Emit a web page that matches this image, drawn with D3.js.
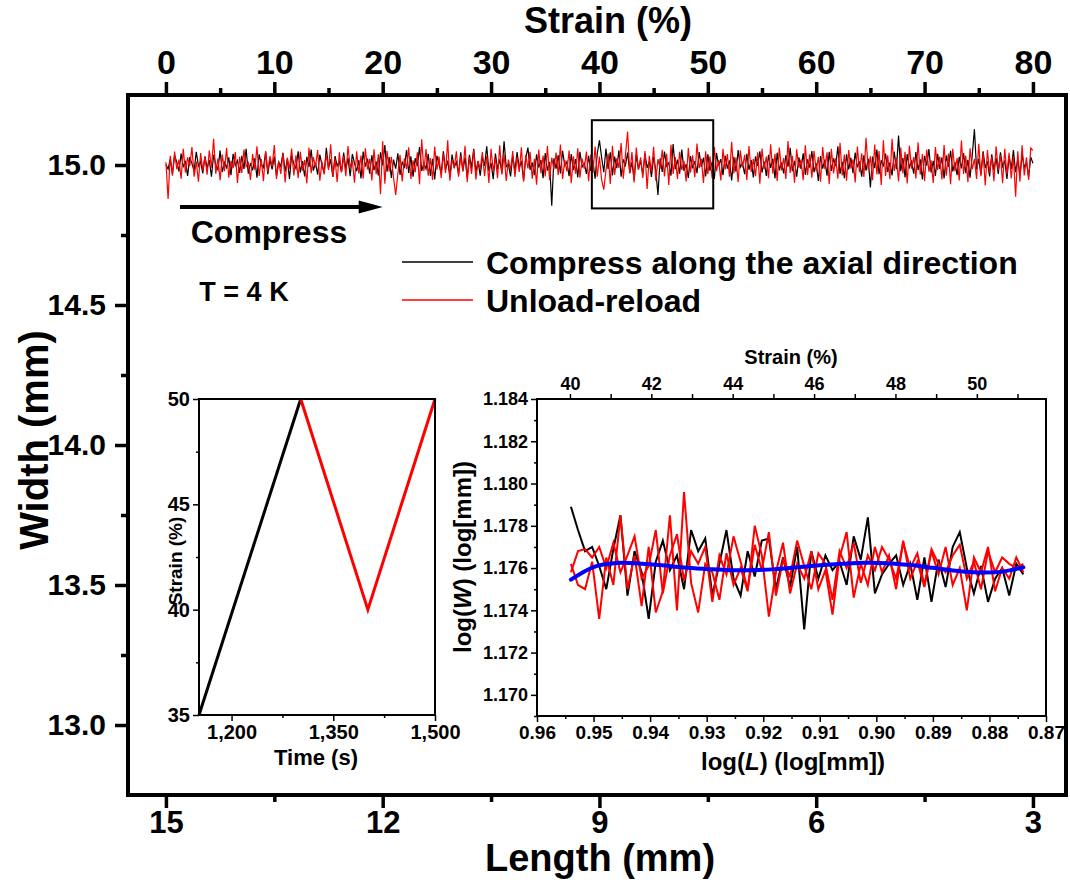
<!DOCTYPE html>
<html>
<head>
<meta charset="utf-8">
<script src="https://cdn.jsdelivr.net/npm/d3@7"></script>
<style>
  body { margin: 0; background: #fff; }
  svg text { font-family: "Liberation Sans", Arial, Helvetica, sans-serif; font-weight: bold; fill: #000; }
</style>
</head>
<body>
<svg id="chart" width="1070" height="883"></svg>
<script>
// ---------------- main panel: width vs strain (sampled every 0.2 % strain) ----------------
const strainStart = 0, strainEnd = 80;

const widthCompress = [
  15.002,14.985,15.021,14.968,15.034,15.010,14.977,15.041,14.992,15.015,14.961,15.028,15.005,14.979,15.047,14.996,15.012,14.970,15.031,14.988,
  15.018,14.958,15.036,15.001,14.983,15.052,14.975,15.009,14.990,15.027,14.964,15.040,14.998,15.016,14.972,15.033,14.986,15.058,14.969,15.007,
  14.981,15.024,14.955,15.038,15.003,14.991,15.046,14.967,15.019,14.984,15.030,14.962,15.011,14.995,15.043,14.976,15.022,14.950,15.035,15.004,
  14.987,15.049,14.973,15.014,14.959,15.029,14.993,15.055,14.980,15.008,14.966,15.037,15.000,14.971,15.061,14.989,15.020,14.957,15.032,14.997,
  15.013,14.974,15.044,14.985,15.026,14.960,15.039,15.006,14.978,15.017,14.952,15.048,14.994,15.023,14.969,15.035,14.982,15.012,14.963,15.045,
  14.999,15.071,14.976,15.028,14.954,15.019,14.987,15.042,14.965,15.010,14.993,15.053,14.972,15.031,14.958,15.024,14.996,15.064,14.979,15.006,
  14.986,15.040,14.961,15.022,14.948,15.033,15.001,14.970,15.049,14.983,15.016,14.957,15.037,14.992,15.011,14.967,15.045,14.980,15.027,14.955,
  15.036,14.990,15.058,14.975,15.014,14.962,15.029,14.997,15.067,14.978,15.008,14.949,15.041,14.985,15.020,14.971,15.085,14.994,15.003,14.959,
  15.032,14.977,15.046,14.988,15.015,14.946,15.025,15.062,14.983,15.009,14.964,15.038,14.991,15.018,14.953,15.043,14.980,15.011,14.855,15.024,
  14.987,15.035,14.970,15.051,14.998,15.012,14.960,15.039,14.982,15.021,14.956,15.047,14.993,15.006,14.968,15.033,14.979,15.016,14.951,15.042,
  15.088,15.027,14.974,15.059,14.986,15.045,14.963,15.030,14.989,15.052,14.958,15.020,14.999,15.044,14.972,15.010,14.947,15.036,14.984,15.017,
  14.966,15.041,14.990,15.013,14.957,15.029,14.981,14.893,15.024,14.975,15.048,14.996,15.008,14.962,15.075,14.985,15.019,14.969,15.055,14.979,
  15.003,14.954,15.032,14.988,15.014,14.971,15.046,14.993,15.026,14.959,15.038,14.980,15.011,14.950,15.043,14.998,15.021,14.964,15.034,14.987,
  15.016,14.945,15.029,14.976,15.053,14.992,15.007,14.967,15.040,14.983,15.018,14.956,15.031,14.997,15.049,14.973,15.012,14.961,15.036,14.990,
  15.023,14.952,15.044,14.981,15.009,14.970,15.035,14.994,15.061,14.978,15.015,14.958,15.027,14.986,15.042,14.965,15.020,14.991,15.050,14.974,
  15.006,14.943,15.032,14.987,15.019,14.962,15.047,14.979,15.024,14.996,15.067,14.968,15.011,14.953,15.038,14.984,15.026,14.971,15.044,14.992,
  15.013,14.958,15.035,14.980,15.022,14.920,15.030,14.989,15.055,14.967,15.017,14.994,15.041,14.975,15.009,14.963,15.048,14.985,15.105,14.978,
  15.025,14.956,15.039,14.991,15.012,14.969,15.046,14.982,15.020,14.948,15.033,14.998,15.057,14.973,15.015,14.961,15.040,14.986,15.027,14.952,
  15.034,14.993,15.051,14.977,15.010,14.964,15.029,14.988,15.043,14.971,15.018,14.955,15.035,15.128,14.984,15.022,14.966,15.049,14.990,15.013,
  14.959,15.038,14.981,15.026,14.968,15.045,14.995,15.016,14.950,15.032,14.986,15.053,14.974,15.021,14.962,15.037,14.992,15.010,14.957,15.028,
  15.006
];

const widthUnloadReload = [
  15.010,14.879,15.033,14.962,15.048,14.985,15.019,14.951,15.058,14.973,15.027,14.996,15.064,14.958,15.012,14.940,15.043,14.981,15.030,14.965,
  15.052,14.990,15.094,14.969,15.024,14.946,15.037,14.978,15.061,14.955,15.015,14.989,15.046,14.936,15.029,14.972,15.055,14.994,15.008,14.947,
  15.039,14.983,15.067,14.961,15.021,14.942,15.050,14.976,15.032,14.995,15.071,14.950,15.014,14.968,15.044,14.938,15.026,14.987,15.059,14.963,
  15.035,14.953,15.047,14.980,15.018,14.934,15.062,14.971,15.028,14.992,15.053,14.944,15.011,14.966,15.040,14.982,15.074,14.957,15.023,14.939,
  15.045,14.975,15.031,14.960,15.068,14.991,15.016,14.937,15.049,14.970,15.034,14.952,15.060,14.984,15.022,14.945,15.056,14.967,15.038,14.896,
  15.085,14.933,15.051,14.977,15.029,14.956,14.893,14.969,15.036,14.941,15.024,14.986,15.063,14.950,15.017,14.974,15.045,14.931,15.092,14.979,
  15.057,14.962,15.025,14.947,15.066,14.983,15.030,14.954,15.041,14.972,15.088,14.944,15.020,14.990,15.049,14.958,15.033,14.976,15.069,14.939,
  15.027,14.968,15.054,14.948,15.015,14.985,15.046,14.960,15.032,14.936,15.058,14.979,15.024,14.953,15.070,14.966,15.038,14.943,15.019,14.982,
  15.050,14.957,15.029,14.975,15.063,14.940,15.036,14.988,15.047,14.951,15.022,14.930,15.055,14.971,15.034,14.959,15.068,14.946,15.026,14.984,
  15.044,14.964,15.073,14.950,15.018,14.977,15.052,14.935,15.031,14.969,15.060,14.955,15.023,14.987,15.048,14.942,15.037,14.973,15.066,14.958,
  15.030,14.948,14.912,14.980,15.041,14.932,15.069,14.965,15.024,14.990,15.078,14.951,15.036,15.119,14.970,15.046,14.938,15.062,14.983,15.027,
  14.954,15.050,14.914,15.033,14.976,15.065,14.944,15.021,14.987,15.054,14.959,15.040,14.929,15.072,14.968,15.028,14.950,15.047,14.982,15.015,
  14.941,15.061,14.973,15.035,14.956,15.077,14.989,15.022,14.936,15.049,14.967,15.031,14.952,15.064,14.978,15.018,14.945,15.058,14.984,15.039,
  14.958,15.083,14.970,15.027,14.939,15.052,14.991,15.036,14.947,15.068,14.975,15.021,14.960,15.045,14.933,15.059,14.986,15.030,14.953,15.074,
  14.969,15.040,14.943,15.062,14.981,15.025,14.950,15.086,14.972,15.033,14.937,15.056,14.990,15.019,14.946,15.070,14.964,15.038,14.955,15.051,
  14.978,15.029,14.940,15.064,14.985,15.045,14.932,15.058,14.970,15.024,14.951,15.079,14.963,15.037,14.944,15.053,14.988,15.020,14.938,15.066,
  14.974,15.042,14.957,15.097,14.983,15.031,14.946,15.073,14.966,15.050,14.929,15.088,14.961,15.035,14.949,15.094,14.979,15.026,14.941,15.062,
  14.970,15.047,14.934,15.069,14.987,15.028,14.952,15.081,14.965,15.039,14.943,15.055,14.976,15.017,14.936,15.064,14.982,15.030,14.948,15.071,
  14.962,15.041,14.931,15.058,14.978,15.025,14.945,15.087,14.968,15.034,14.939,15.060,14.985,15.022,14.950,15.076,14.960,15.044,14.927,15.053,
  14.973,15.029,14.942,15.067,14.981,15.036,14.935,15.058,14.966,15.044,14.952,15.032,14.887,15.049,14.940,15.070,14.963,15.027,14.947,15.061,
  15.052
];

const strainTicks = [0, 10, 20, 30, 40, 50, 60, 70, 80];
const strainMinorTicks = [5, 15, 25, 35, 45, 55, 65, 75];
const lengthTicks = [15, 12, 9, 6, 3];
const lengthMinorTicks = [13.5, 10.5, 7.5, 4.5];
const widthTicks = [13.0, 13.5, 14.0, 14.5, 15.0];
const widthMinorTicks = [13.25, 13.75, 14.25, 14.75];

// zoom window marked on the main trace
const zoomStrain = [39.3, 50.5];
const zoomWidth = [14.845, 15.16];
// compression arrow
const arrowStrain = [1.3, 20.0];
const arrowWidth = 14.85;

// ---------------- left inset: loading cycle ----------------
const cycleTimeCompress = [1152, 1302];
const cycleStrainCompress = [35, 50];
const cycleTimeUnloadReload = [1302, 1401, 1500];
const cycleStrainUnloadReload = [50, 40, 50];
const timeTicks = [1200, 1350, 1500];
const timeMinorTicks = [1275, 1425];
const cycleStrainTicks = [35, 40, 45, 50];
const cycleStrainMinorTicks = [37.5, 42.5, 47.5];

// ---------------- right inset: log W vs log L, 40 -> 50 % strain ----------------
const logLStart = 0.954, logLEnd = 0.874;
const logWCompress = [
  1.1789,1.1778,1.1768,1.1770,1.1761,1.1750,1.1769,1.1785,1.1747,1.1768,1.1758,1.1736,1.1763,1.1773,1.1759,1.1766,
  1.1750,1.1778,1.1768,1.1774,1.1747,1.1762,1.1778,1.1755,1.1747,1.1768,1.1756,1.1773,1.1774,1.1750,1.1765,1.1751,
  1.1770,1.1731,1.1768,1.1755,1.1766,1.1759,1.1763,1.1752,1.1775,1.1764,1.1784,1.1748,1.1757,1.1762,1.1766,1.1752,
  1.1762,1.1745,1.1765,1.1744,1.1764,1.1751,1.1770,1.1777,1.1760,1.1748,1.1761,1.1744,1.1755,1.1760,1.1747,1.1762,
  1.1757
];
const logWUnload = [
  1.1762,1.1752,1.1750,1.1763,1.1736,1.1765,1.1752,1.1785,1.1750,1.1766,1.1742,1.1770,1.1739,1.1749,1.1785,1.1740,
  1.1796,1.1753,1.1739,1.1762,1.1758,1.1745,1.1767,1.1752,1.1760,1.1749,1.1780,1.1766,1.1737,1.1758,1.1772,1.1748,
  1.1762,1.1755,1.1768,1.1750,1.1759,1.1738,1.1765,1.1777,1.1746,1.1762,1.1752,1.1770,1.1758,1.1766,1.1750,1.1773,
  1.1755,1.1763,1.1751,1.1768,1.1757,1.1770,1.1752,1.1760,1.1740,1.1765,1.1758,1.1770,1.1749,1.1760,1.1755,1.1765,
  1.1758
];
const logWReload = [
  1.1758,1.1768,1.1769,1.1765,1.1770,1.1760,1.1772,1.1758,1.1766,1.1775,1.1755,1.1761,1.1778,1.1748,1.1766,1.1776,
  1.1754,1.1768,1.1762,1.1770,1.1744,1.1766,1.1757,1.1775,1.1763,1.1750,1.1771,1.1759,1.1777,1.1747,1.1764,1.1756,
  1.1773,1.1761,1.1750,1.1767,1.1762,1.1745,1.1768,1.1760,1.1772,1.1753,1.1766,1.1759,1.1770,1.1764,1.1755,1.1772,
  1.1760,1.1767,1.1752,1.1769,1.1762,1.1758,1.1766,1.1771,1.1755,1.1763,1.1750,1.1768,1.1758,1.1765,1.1762,1.1760,
  1.1762
];
// smooth fit through all three traces
const fitLogL = [0.954,0.950,0.946,0.942,0.938,0.934,0.930,0.926,0.922,0.918,0.914,0.910,0.906,0.902,0.898,0.894,0.890,0.886,0.882,0.878,0.874];
const fitLogW = [1.17545,1.17605,1.17624,1.17622,1.17613,1.17603,1.17596,1.17590,1.17590,1.17595,1.17604,1.17613,1.17620,1.17625,1.17623,1.17614,1.17601,1.17587,1.17579,1.17582,1.17604];

const logLTicks = [0.96, 0.95, 0.94, 0.93, 0.92, 0.91, 0.90, 0.89, 0.88, 0.87];
const logLMinorTicks = [0.955, 0.945, 0.935, 0.925, 0.915, 0.905, 0.895, 0.885, 0.875];
const logWTicks = [1.170, 1.172, 1.174, 1.176, 1.178, 1.180, 1.182, 1.184];
const logWMinorTicks = [1.169, 1.171, 1.173, 1.175, 1.177, 1.179, 1.181, 1.183];
const insetStrainTicks = [40, 41, 42, 43, 44, 45, 46, 47, 48, 49, 50, 51];

// ================= drawing =================
const svg = d3.select("#chart");

// ---- main scales ----
const xStrain = d3.scaleLinear().domain([-3.5, 83.05]).range([128, 1066]);
const xLength = d3.scaleLinear().domain([15.525, 2.5425]).range([128, 1066]);
const yWidth = d3.scaleLinear().domain([12.75, 15.25]).range([795, 95]);

const strainAt = (arr) => arr.map((w, i) => ({ s: strainStart + i * (strainEnd - strainStart) / (arr.length - 1), w }));

const mainLine = d3.line().x(d => xStrain(d.s)).y(d => yWidth(d.w));

svg.append("path").datum(strainAt(widthCompress))
  .attr("d", mainLine).attr("fill", "none").attr("stroke", "#000").attr("stroke-width", 1.2);
svg.append("path").datum(strainAt(widthUnloadReload))
  .attr("d", mainLine).attr("fill", "none").attr("stroke", "#ff0000").attr("stroke-width", 1.2);

// zoom window
svg.append("rect")
  .attr("x", xStrain(zoomStrain[0])).attr("y", yWidth(zoomWidth[1]))
  .attr("width", xStrain(zoomStrain[1]) - xStrain(zoomStrain[0]))
  .attr("height", yWidth(zoomWidth[0]) - yWidth(zoomWidth[1]))
  .attr("fill", "none").attr("stroke", "#000").attr("stroke-width", 2);

// compression arrow
const ax0 = xStrain(arrowStrain[0]), ax1 = xStrain(arrowStrain[1]), ay = yWidth(arrowWidth);
svg.append("line").attr("x1", ax0).attr("x2", ax1 - 18).attr("y1", ay).attr("y2", ay)
  .attr("stroke", "#000").attr("stroke-width", 4);
svg.append("path").attr("d", `M${ax1},${ay} L${ax1 - 24},${ay - 6.5} L${ax1 - 24},${ay + 6.5} Z`).attr("fill", "#000");

svg.append("text").attr("x", 269).attr("y", 243).attr("text-anchor", "middle")
  .style("font-size", "32px").text("Compress");
svg.append("text").attr("x", 244).attr("y", 301).attr("text-anchor", "middle")
  .style("font-size", "27px").text("T = 4 K");

// legend
const legend = [
  { label: "Compress along the axial direction", color: "#000", y: 262 },
  { label: "Unload-reload", color: "#ff0000", y: 300 }
];
legend.forEach(d => {
  svg.append("line").attr("x1", 402).attr("x2", 473).attr("y1", d.y).attr("y2", d.y)
    .attr("stroke", d.color).attr("stroke-width", 1.5);
  svg.append("text").attr("x", 486).attr("y", d.y + 12).style("font-size", "32px").text(d.label);
});

// ---- main axes ----
function styleAxis(g, fontSize) {
  g.select(".domain").remove();
  g.selectAll(".tick line").attr("stroke", "#000").attr("stroke-width", 3.5);
  g.selectAll(".tick text").style("font-size", fontSize).attr("fill", "#000");
}
svg.append("g").attr("transform", "translate(0,95)")
  .call(d3.axisTop(xStrain).tickValues(strainTicks).tickSize(13).tickPadding(8).tickFormat(d3.format("d")))
  .call(g => styleAxis(g, "34px"));
svg.append("g").attr("transform", "translate(0,95)")
  .call(d3.axisTop(xStrain).tickValues(strainMinorTicks).tickSize(7).tickFormat(""))
  .call(g => styleAxis(g, "0px"));
svg.append("g").attr("transform", "translate(0,795)")
  .call(d3.axisBottom(xLength).tickValues(lengthTicks).tickSize(13).tickPadding(3).tickFormat(d3.format("d")))
  .call(g => styleAxis(g, "31px"));
svg.append("g").attr("transform", "translate(0,795)")
  .call(d3.axisBottom(xLength).tickValues(lengthMinorTicks).tickSize(7).tickFormat(""))
  .call(g => styleAxis(g, "0px"));
svg.append("g").attr("transform", "translate(128,0)")
  .call(d3.axisLeft(yWidth).tickValues(widthTicks).tickSize(13).tickPadding(9).tickFormat(d3.format(".1f")))
  .call(g => styleAxis(g, "30px"));
svg.append("g").attr("transform", "translate(128,0)")
  .call(d3.axisLeft(yWidth).tickValues(widthMinorTicks).tickSize(7).tickFormat(""))
  .call(g => styleAxis(g, "0px"));

// frame
const [fx0, fx1] = xStrain.range();
const [fy1, fy0] = yWidth.range();
svg.append("rect").attr("x", fx0).attr("y", fy0).attr("width", fx1 - fx0).attr("height", fy1 - fy0)
  .attr("fill", "none").attr("stroke", "#000").attr("stroke-width", 4);

// axis titles
svg.append("text").attr("x", 608).attr("y", 33).attr("text-anchor", "middle")
  .style("font-size", "36px").text("Strain (%)");
svg.append("text").attr("x", 600).attr("y", 871).attr("text-anchor", "middle")
  .style("font-size", "38px").text("Length (mm)");
svg.append("text").attr("transform", "translate(48,440) rotate(-90)").attr("text-anchor", "middle")
  .style("font-size", "40px").text("Width (mm)");

// ---- left inset ----
const xTime = d3.scaleLinear().domain([1152, 1500]).range([199, 435]);
const yCycle = d3.scaleLinear().domain([35, 50]).range([715, 399]);
const cycleLine = d3.line().x(d => xTime(d[0])).y(d => yCycle(d[1]));
svg.append("path").datum(d3.zip(cycleTimeCompress, cycleStrainCompress))
  .attr("d", cycleLine).attr("fill", "none").attr("stroke", "#000").attr("stroke-width", 3);
svg.append("path").datum(d3.zip(cycleTimeUnloadReload, cycleStrainUnloadReload))
  .attr("d", cycleLine).attr("fill", "none").attr("stroke", "#ff0000").attr("stroke-width", 3);

function styleSmall(g, fontSize) {
  g.select(".domain").remove();
  g.selectAll(".tick line").attr("stroke", "#000").attr("stroke-width", 1.5);
  g.selectAll(".tick text").style("font-size", fontSize).attr("fill", "#000");
}
svg.append("g").attr("transform", "translate(0,715)")
  .call(d3.axisBottom(xTime).tickValues(timeTicks).tickSize(6).tickPadding(4).tickFormat(d3.format(",")))
  .call(g => styleSmall(g, "20px"));
svg.append("g").attr("transform", "translate(0,715)")
  .call(d3.axisBottom(xTime).tickValues(timeMinorTicks).tickSize(3).tickFormat(""))
  .call(g => styleSmall(g, "0px"));
svg.append("g").attr("transform", "translate(199,0)")
  .call(d3.axisLeft(yCycle).tickValues(cycleStrainTicks).tickSize(6).tickPadding(3).tickFormat(d3.format("d")))
  .call(g => styleSmall(g, "20px"));
svg.append("g").attr("transform", "translate(199,0)")
  .call(d3.axisLeft(yCycle).tickValues(cycleStrainMinorTicks).tickSize(3).tickFormat(""))
  .call(g => styleSmall(g, "0px"));
svg.append("rect").attr("x", 199).attr("y", 399).attr("width", 236).attr("height", 316)
  .attr("fill", "none").attr("stroke", "#000").attr("stroke-width", 2);
svg.append("text").attr("x", 316).attr("y", 765).attr("text-anchor", "middle")
  .style("font-size", "22px").text("Time (s)");
svg.append("text").attr("transform", "translate(182,561) rotate(-90)").attr("text-anchor", "middle")
  .style("font-size", "19px").text("Strain (%)");

// ---- right inset ----
const xLogL = d3.scaleLinear().domain([0.96, 0.87]).range([537, 1046]);
const xInsetStrain = d3.scaleLinear().domain([39.19, 51.70]).range([537, 1046]);
const yLogW = d3.scaleLinear().domain([1.169, 1.184]).range([716, 399]);
const logLAt = (arr) => arr.map((w, i) => [logLStart + i * (logLEnd - logLStart) / (arr.length - 1), w]);
const insetLine = d3.line().x(d => xLogL(d[0])).y(d => yLogW(d[1]));

svg.append("path").datum(logLAt(logWCompress)).attr("d", insetLine)
  .attr("fill", "none").attr("stroke", "#000").attr("stroke-width", 2);
svg.append("path").datum(logLAt(logWUnload)).attr("d", insetLine)
  .attr("fill", "none").attr("stroke", "#ff0000").attr("stroke-width", 2);
svg.append("path").datum(logLAt(logWReload)).attr("d", insetLine)
  .attr("fill", "none").attr("stroke", "#ff0000").attr("stroke-width", 2);
svg.append("path").datum(d3.zip(fitLogL, fitLogW))
  .attr("d", d3.line().x(d => xLogL(d[0])).y(d => yLogW(d[1])).curve(d3.curveCatmullRom))
  .attr("fill", "none").attr("stroke", "#0000ff").attr("stroke-width", 4).attr("stroke-linecap", "round");

svg.append("g").attr("transform", "translate(0,716)")
  .call(d3.axisBottom(xLogL).tickValues(logLTicks).tickSize(6).tickPadding(4).tickFormat(d3.format(".2f")))
  .call(g => styleSmall(g, "19px"));
svg.append("g").attr("transform", "translate(0,716)")
  .call(d3.axisBottom(xLogL).tickValues(logLMinorTicks).tickSize(3).tickFormat(""))
  .call(g => styleSmall(g, "0px"));
svg.append("g").attr("transform", "translate(537,0)")
  .call(d3.axisLeft(yLogW).tickValues(logWTicks).tickSize(6).tickPadding(3).tickFormat(d3.format(".3f")))
  .call(g => styleSmall(g, "18px"));
svg.append("g").attr("transform", "translate(537,0)")
  .call(d3.axisLeft(yLogW).tickValues(logWMinorTicks).tickSize(3).tickFormat(""))
  .call(g => styleSmall(g, "0px"));
svg.append("g").attr("transform", "translate(0,399)")
  .call(d3.axisTop(xInsetStrain).tickValues(insetStrainTicks).tickSize(5).tickPadding(4)
    .tickFormat(d => d % 2 === 0 ? d3.format("d")(d) : ""))
  .call(g => styleSmall(g, "18px"));
svg.append("rect").attr("x", 537).attr("y", 399).attr("width", 509).attr("height", 317)
  .attr("fill", "none").attr("stroke", "#000").attr("stroke-width", 2);

svg.append("text").attr("x", 791).attr("y", 364).attr("text-anchor", "middle")
  .style("font-size", "20px").text("Strain (%)");
const lx = svg.append("text").attr("x", 793).attr("y", 770).attr("text-anchor", "middle").style("font-size", "24px");
lx.append("tspan").text("log(");
lx.append("tspan").style("font-style", "italic").text("L");
lx.append("tspan").text(") (log[mm])");
const ly = svg.append("text").attr("transform", "translate(471,557) rotate(-90)").attr("text-anchor", "middle").style("font-size", "24px");
ly.append("tspan").text("log(");
ly.append("tspan").style("font-style", "italic").text("W");
ly.append("tspan").text(") (log[mm])");
</script>
</body>
</html>
